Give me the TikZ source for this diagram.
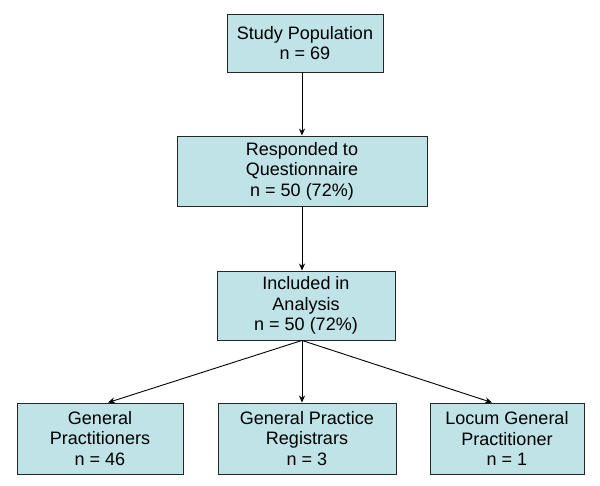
\documentclass[tikz,border=0pt]{standalone}
\usepackage{fontspec}
\setmainfont{Liberation Sans}
\usetikzlibrary{arrows.meta}
\definecolor{boxfill}{RGB}{191,227,231}
\tikzset{
    flowbox/.style={draw=black!85,line width=0.9pt,fill=boxfill,align=center,
        inner sep=0pt,font=\fontsize{18}{20.5}\selectfont},
    flowarrow/.style={-{Stealth[length=7pt,width=6pt]},line width=0.9pt}
}

\begin{document}
\begin{tikzpicture}[x=1pt,y=-1pt]
            \useasboundingbox (0,0) rectangle (600,486);
            % top part
            \node[flowbox,minimum width=156,minimum height=58] (pop) at (305,43){Study Population\\n = 69};
            \node[flowbox,minimum width=250,minimum height=70] (resp) at (302,171){Responded to\\Questionnaire\\n = 50 (72\%)};
            \node[flowbox,minimum width=178,minimum height=69] (incl) at (306,305.5){Included in\\Analysis\\n = 50 (72\%)};
            % bottom row
            \node[flowbox,minimum width=166,minimum height=71] (gp) at (100,438.5){General\\Practitioners\\n = 46};
            \node[flowbox,minimum width=178,minimum height=71] (reg) at (307,438.5){General Practice\\Registrars\\n = 3};
            \node[flowbox,minimum width=154,minimum height=71] (loc) at (507,438.5){Locum General\\Practitioner\\n = 1};
            \draw[flowarrow]([xshift=-3]pop.south)--(resp.north);
            \draw[flowarrow](resp.south)--([xshift=-4]incl.north);
            \draw[flowarrow]([xshift=-4]incl.south)--([xshift=8]gp.north);
            \draw[flowarrow]([xshift=-4]incl.south)--([xshift=-5]reg.north);
            \draw[flowarrow]([xshift=-4]incl.south)--([xshift=-15]loc.north);
        \end{tikzpicture}
\end{document}
